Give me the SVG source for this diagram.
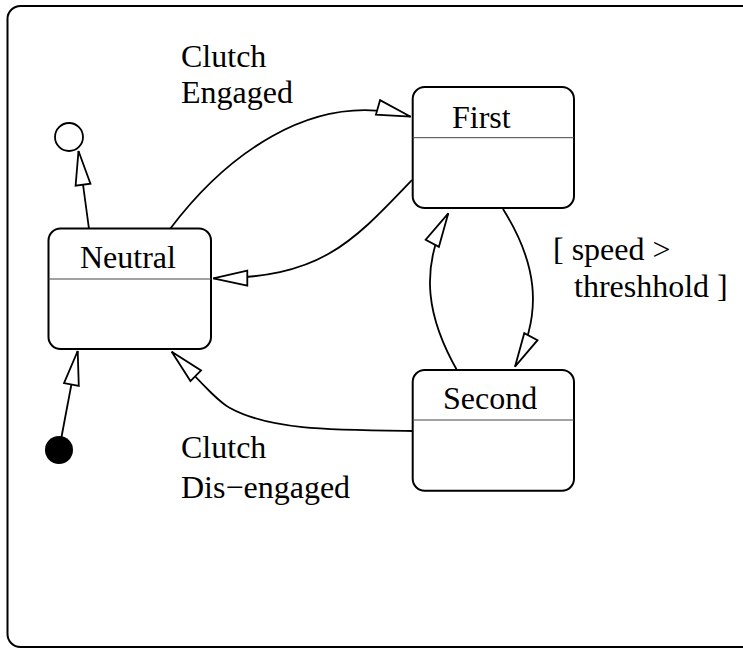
<svg xmlns="http://www.w3.org/2000/svg" width="743" height="649" viewBox="0 0 743 649">
<style>
.frame{fill:none;stroke:#000;stroke-width:2}
.box{fill:#fff;stroke:#000;stroke-width:2}
.div{stroke:#444;stroke-width:1}
.lbl{font-family:"Liberation Serif","Times New Roman",serif;font-size:32px;fill:#000}
.edge{fill:none;stroke:#000;stroke-width:1.8;marker-end:url(#open)}
</style>
<defs>
<marker id="open" viewBox="0 0 42 20" refX="38" refY="10" markerWidth="42" markerHeight="20" markerUnits="userSpaceOnUse" orient="auto" overflow="visible">
<path d="M38,10 L4,2.5 L4,17.5 Z" fill="#fff" stroke="#000" stroke-width="1.8" stroke-linejoin="miter"/>
</marker>
</defs>
<rect class="frame" x="7.5" y="6" width="760" height="641" rx="13"/>
<g id="connectors">
<path id="e-init" class="edge" d="M61.5,437 L77.7,351"/>
<path id="e-final" class="edge" d="M89,229 L78.5,151"/>
<path id="e-engaged" class="edge" d="M170,229 C222,160 310,88 410.7,116.7"/>
<path id="e-first-neutral" class="edge" d="M412,180 C350,245 320,278 213.3,278.3"/>
<path id="e-disengaged" class="edge" d="M413,431 C330,430 270,430 230,408 C215,400 190,370 171.7,351.7"/>
<path id="e-second-first" class="edge" d="M458,372 C428,320 418,270 448.3,213.3"/>
<path id="e-first-second" class="edge" d="M503,209 C535,260 545,310 515,366.7"/>
</g>
<g id="initial"><circle cx="59" cy="450" r="14" fill="#000"/></g>
<g id="final"><circle cx="69" cy="137" r="14" fill="#fff" stroke="#000" stroke-width="1.8"/></g>
<g id="neutral">
<rect class="box" x="48.5" y="228.5" width="162.5" height="120.5" rx="12"/>
<line class="div" x1="48.5" y1="279" x2="211" y2="279"/>
<text class="lbl" x="80" y="268">Neutral</text>
</g>
<g id="first">
<rect class="box" x="412.7" y="87" width="161.3" height="121" rx="12"/>
<line class="div" x1="412.7" y1="137.7" x2="574" y2="137.7"/>
<text class="lbl" x="452" y="128">First</text>
</g>
<g id="second">
<rect class="box" x="412.7" y="370" width="161.3" height="120.7" rx="12"/>
<line class="div" x1="412.7" y1="420" x2="574" y2="420"/>
<text class="lbl" x="443" y="409">Second</text>
</g>
<g id="labels">
<text class="lbl" x="181" y="67">Clutch</text>
<text class="lbl" x="181" y="103">Engaged</text>
<text class="lbl" x="181" y="458">Clutch</text>
<text class="lbl" x="181" y="498">Dis−engaged</text>
<text class="lbl" x="553" y="260">[ speed &gt;</text>
<text class="lbl" x="574" y="297">threshhold ]</text>
</g>
</svg>
